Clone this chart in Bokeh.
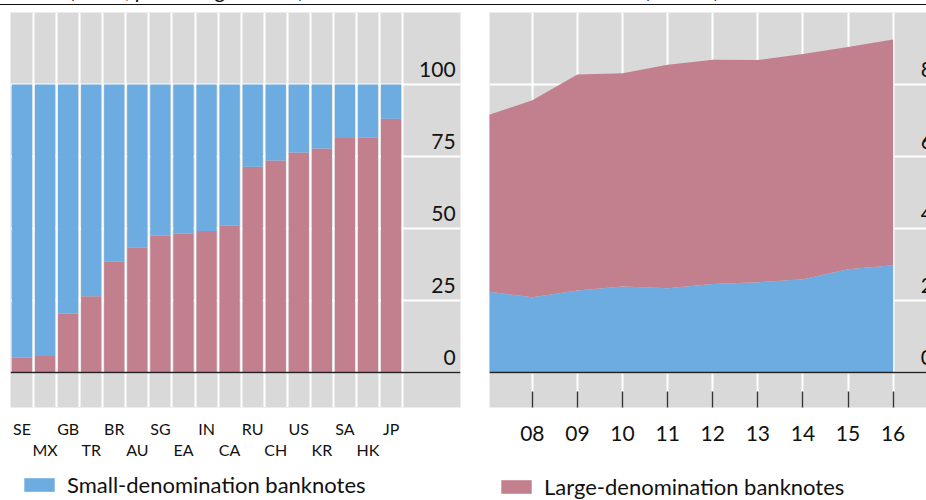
from bokeh.plotting import figure
from bokeh.layouts import row, column
from bokeh.models import (ColumnDataSource, FixedTicker, Grid, LinearAxis, Span,
                          Legend, LegendItem, Range1d, Div)
from bokeh.core.properties import value
from bokeh.embed import file_html
from bokeh.resources import INLINE

# ---------------- data ----------------
left_title = "(2016, percentage shares)"
right_title = "(% GDP)"

countries = ["SE", "MX", "GB", "TR", "BR", "AU", "SG", "EA", "IN", "CA",
             "RU", "CH", "US", "KR", "SA", "HK", "JP"]
large_share = [5.2, 5.7, 20.5, 26.5, 38.5, 43.3, 47.6, 48.3, 49.1, 51.0,
               71.4, 73.6, 76.4, 77.8, 81.4, 81.5, 88.1]
small_share = [100 - v for v in large_share]
share_ticks = [0, 25, 50, 75, 100]

years = [2007, 2008, 2009, 2010, 2011, 2012, 2013, 2014, 2015, 2016]
small_gdp = [2.25, 2.09, 2.28, 2.39, 2.34, 2.46, 2.51, 2.59, 2.87, 2.98]
total_gdp = [7.14, 7.56, 8.28, 8.31, 8.55, 8.69, 8.68, 8.85, 9.04, 9.25]
large_gdp = [t - s for t, s in zip(total_gdp, small_gdp)]
gdp_ticks = [0, 2, 4, 6, 8]
year_labels = ["08", "09", "10", "11", "12", "13", "14", "15", "16"]

BLUE = "#6CACE0"
PINK = "#C2808F"
GREY = "#D9D9D9"
FONT = "Lato"
TXT = "#111111"

# ---------------- header strip (cut-off titles + rule) ----------------
header = Div(
    text=(f'<div style="position:absolute;left:70px;top:-21px;font:italic 22px Lato;'
          f'line-height:22px;white-space:nowrap;color:{TXT}">{left_title}</div>'
          f'<div style="position:absolute;left:645px;top:-21px;font:italic 22px Lato;'
          f'line-height:22px;white-space:nowrap;color:{TXT}">{right_title}</div>'
          '<div style="position:absolute;left:0px;top:4px;width:926px;height:0px;'
          'border-top:1.5px solid #111"></div>'),
    width=926, height=6, styles={"overflow": "visible", "margin": "0", "padding": "0"})

# ---------------- left panel ----------------
n = len(countries)
idx = list(range(n))
src_l = ColumnDataSource(dict(x=idx, large=large_share, small=small_share))

left = figure(frame_width=450, frame_height=395, output_backend="svg", toolbar_location=None,
              x_axis_type=None, y_axis_type=None,
              x_range=Range1d(-0.5, 19.01), y_range=Range1d(-12.15, 125),
              min_border_left=10, min_border_right=18, min_border_top=6,
              min_border_bottom=56,
              background_fill_color=GREY, border_fill_color="white",
              outline_line_color=None)

left.add_layout(Grid(dimension=0, ticker=FixedTicker(ticks=[i - 0.5 for i in range(n + 1)]),
                     grid_line_color="white", grid_line_width=2))
left.add_layout(Grid(dimension=1, ticker=FixedTicker(ticks=share_ticks),
                     grid_line_color="white", grid_line_width=2))

rl = left.vbar_stack(["large", "small"], x="x", width=0.88, source=src_l,
                     color=[PINK, BLUE], line_color=None)
left.add_layout(Span(location=0, dimension="width", line_color="#222222", line_width=1.5))

tick_src_l = ColumnDataSource(dict(x=[18.80] * len(share_ticks), y=share_ticks,
                                   t=[str(v) for v in share_ticks]))
left.text(x="x", y="y", text="t", source=tick_src_l, text_align="right",
          text_baseline="middle", y_offset=-15, text_font=value(FONT),
          text_font_size="21px", text_color=TXT)

even = [i for i in idx if i % 2 == 0]
odd = [i for i in idx if i % 2 == 1]
for sel, standoff in ((even, 5), (odd, -7)):
    ax = LinearAxis(ticker=FixedTicker(ticks=sel),
                    major_label_overrides={i: countries[i] for i in sel},
                    axis_line_color=None, major_tick_line_color=None,
                    minor_tick_line_color=None, major_label_standoff=standoff,
                    major_label_text_font=FONT, major_label_text_font_size="16px",
                    major_label_text_color=TXT)
    left.add_layout(ax, "below")

# ---------------- right panel ----------------
src_r = ColumnDataSource(dict(x=years, small=small_gdp, large=large_gdp))
right = figure(frame_width=437, frame_height=395, output_backend="svg", toolbar_location=None,
               x_axis_type=None, y_axis_type=None,
               x_range=Range1d(2007.05, 2016.74), y_range=Range1d(-0.972, 10),
               min_border_left=11, min_border_right=0, min_border_top=6,
               min_border_bottom=56,
               background_fill_color=GREY, border_fill_color="white",
               outline_line_color=None)
right.add_layout(Grid(dimension=0, ticker=FixedTicker(ticks=years),
                      grid_line_color="white", grid_line_width=2))
right.add_layout(Grid(dimension=1, ticker=FixedTicker(ticks=gdp_ticks),
                      grid_line_color="white", grid_line_width=2))
rr = right.varea_stack(["small", "large"], x="x", source=src_r, color=[BLUE, PINK])
right.add_layout(Span(location=0, dimension="width", line_color="#222222", line_width=1.5))

tick_src_r = ColumnDataSource(dict(x=[2016.61] * len(gdp_ticks), y=gdp_ticks,
                                   t=[str(v) for v in gdp_ticks]))
right.text(x="x", y="y", text="t", source=tick_src_r, text_align="left",
           text_baseline="middle", y_offset=-15, text_font=value(FONT),
           text_font_size="21px", text_color=TXT)

axr = LinearAxis(ticker=FixedTicker(ticks=years[1:]),
                 major_label_overrides={y: l for y, l in zip(years[1:], year_labels)},
                 axis_line_color=None, major_tick_line_color="#333333",
                 major_tick_line_width=1.5, major_tick_in=16, major_tick_out=0,
                 minor_tick_line_color=None, major_label_standoff=18,
                 major_label_text_font=FONT, major_label_text_font_size="21px",
                 major_label_text_color=TXT)
right.add_layout(axr, "below")


# ---------------- legend strips ----------------
# Each strip re-uses the panel's own data source; its ranges keep the marks out of
# view so only the legend key (swatch + label) is visible.
def legend_strip(width, label, dx, dy, draw):
    f = figure(width=width, height=37, output_backend="svg", toolbar_location=None,
               x_axis_type=None, y_axis_type=None,
               x_range=Range1d(-1000, -999), y_range=Range1d(-1000, -999),
               min_border=0, outline_line_color=None,
               background_fill_color="white", border_fill_color="white")
    r = draw(f)
    leg = Legend(items=[LegendItem(label=label, renderers=[r])],
                 location=(dx, dy), orientation="horizontal",
                 glyph_width=38, glyph_height=17, label_standoff=9,
                 label_text_font=FONT, label_text_font_size="22px",
                 label_text_color=TXT, padding=0, margin=0,
                 border_line_color=None, background_fill_alpha=0)
    f.add_layout(leg, "center")
    return f


leg_left = legend_strip(
    478, "Small-denomination banknotes", 20, 2,
    lambda f: f.vbar(x="x", top="small", width=0.88, source=src_l,
                     color=BLUE, line_color=None))
leg_right = legend_strip(
    448, "Large-denomination banknotes", 19, 0,
    lambda f: f.varea(x="x", y1="small", y2="large", source=src_r, color=PINK))

layout = column(header, row(left, right), row(leg_left, leg_right))
open("out.html", "w").write(file_html(layout, INLINE))
